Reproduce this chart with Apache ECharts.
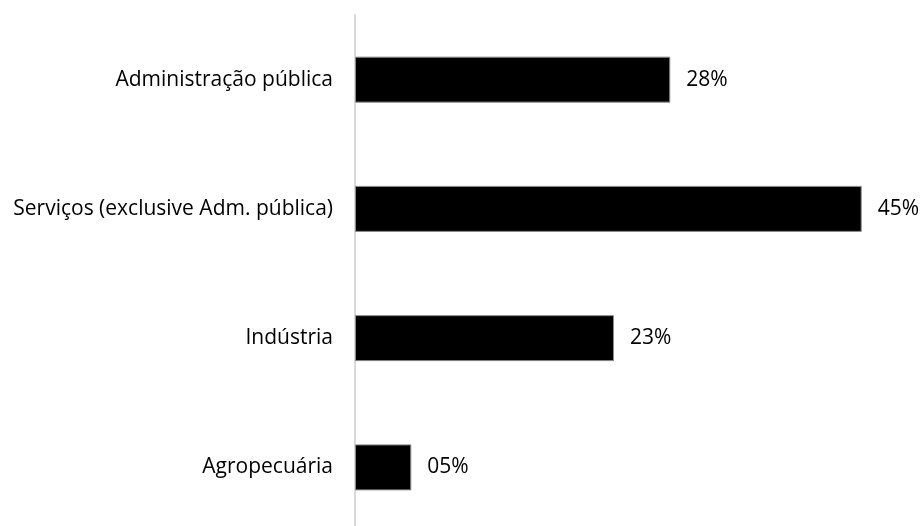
<!DOCTYPE html>
<html>
<head>
<meta charset="utf-8">
<script src="https://cdn.jsdelivr.net/npm/echarts@6/dist/echarts.min.js"></script>
<style>
  html, body { margin: 0; padding: 0; background: #fff; }
  #chart { width: 920px; height: 526px; }
</style>
</head>
<body>
<div id="chart"></div>
<script>
// Sectors, listed bottom to top as the category axis draws them
const sectors = ['Agropecuária', 'Indústria', 'Serviços (exclusive Adm. pública)', 'Administração pública'];
// Share of each sector, in percent
const shares = [5, 23, 45, 28];

const chart = echarts.init(document.getElementById('chart'));
const font = '"Open Sans", sans-serif';

chart.setOption({
  animation: false,
  backgroundColor: '#ffffff',
  // the plot area runs past the bottom edge, so the last band is cut off
  grid: { left: 355, top: 15, width: 563, height: 517, containLabel: false, outerBoundsMode: 'none' },
  xAxis: {
    type: 'value', min: 0, max: 50,
    show: false
  },
  yAxis: {
    type: 'category',
    data: sectors,
    axisLine: { show: true, lineStyle: { color: '#d9d9d9', width: 2 } },
    axisTick: { show: false },
    axisLabel: { color: '#000', fontFamily: font, fontSize: 21, margin: 22 }
  },
  series: [{
    type: 'bar',
    data: shares,
    barWidth: 46,
    itemStyle: { color: '#000', borderColor: '#8c8c8c', borderWidth: 1 },
    label: {
      show: true, position: 'right', distance: 16,
      color: '#000', fontFamily: font, fontSize: 21,
      formatter: p => String(p.value).padStart(2, '0') + '%'
    }
  }]
});
</script>
</body>
</html>
